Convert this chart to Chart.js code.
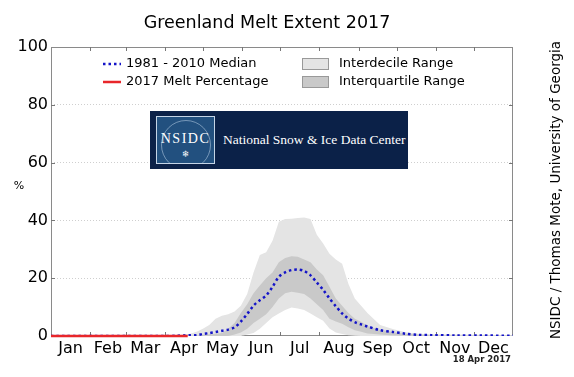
<!DOCTYPE html>
<html>
<head>
<meta charset="utf-8">
<script src="https://cdn.jsdelivr.net/npm/chart.js@4.4.1/dist/chart.umd.min.js"></script>
<style>
  html, body { margin: 0; padding: 0; background: #fff; }
  #wrap { position: relative; width: 574px; height: 377px; }
  #logo {
    position: absolute; left: 150px; top: 111px; width: 258px; height: 58px;
    background: #0b2148;
  }
  #logo .box {
    position: absolute; left: 6px; top: 5px; width: 57px; height: 46px;
    border: 1px solid #c4d4e6; background: #22507f; overflow: hidden;
  }
  #logo .globe {
    position: absolute; left: 4px; top: 3px; width: 48px; height: 48px;
    border-radius: 50%; border: 1px solid rgba(200,220,240,0.5);
  }
  #logo .abbr {
    position: absolute; left: 0; top: 14px; width: 57px; text-align: center;
    font: 14px "Liberation Serif", serif; color: #fff; letter-spacing: 1.5px;
  }
  #logo .flake {
    position: absolute; left: 0; top: 32px; width: 57px; text-align: center;
    font: 9px "DejaVu Sans", sans-serif; color: #fff;
  }
  #logo .name {
    position: absolute; left: 73px; top: 21px;
    font: 13.5px "Liberation Serif", serif; color: #fff; white-space: nowrap;
  }
</style>
</head>
<body>
<div id="wrap">
  <canvas id="meltChart" width="574" height="377"></canvas>
  <div id="logo">
    <div class="box"><div class="globe"></div><div class="abbr">NSIDC</div><div class="flake">❄</div></div>
    <div class="name">National Snow &amp; Ice Data Center</div>
  </div>
</div>
<script>
const months = ['Jan', 'Feb', 'Mar', 'Apr', 'May', 'Jun', 'Jul', 'Aug', 'Sep', 'Oct', 'Nov', 'Dec'];
const monthLengths = [31, 28, 31, 30, 31, 30, 31, 31, 30, 31, 30, 31];

// day of year for the climatology curves
const dayOfYear = [0, 90, 100, 105, 110, 115, 120, 125, 130, 135, 140, 145, 150, 155, 160, 165, 170, 175, 180, 185,
    190, 195, 200, 205, 210, 215, 220, 225, 230, 235, 240, 245, 250, 260, 270, 280, 290, 300, 320, 340, 365];

const median = [0, 0, 0.1, 0.2, 0.3, 0.3, 0.7, 1.0, 1.4, 1.8, 2.2, 3.0, 5.0, 7.6, 10.5, 12.4, 14.0, 17.0, 20.5, 22.0,
    22.8, 23.0, 22.5, 21.0, 18.5, 16.0, 13.0, 10.3, 7.8, 6.0, 4.8, 4.0, 3.3, 2.0, 1.4, 0.8, 0.4, 0.3, 0.2, 0.15, 0.1];

const decileHigh = [0, 0, 0.2, 0.5, 0.8, 1.5, 2.5, 3.8, 6.0, 7.0, 7.5, 8.5, 10.5, 14.5, 22, 28, 29, 33, 39.5, 40.5,
    40.6, 40.8, 41, 40.5, 35, 32, 28.5, 26.5, 25, 18, 13, 10.5, 8, 3.8, 2.4, 1.3, 0.8, 0.6, 0.5, 0.4, 0.3];

const decileLow = [0, 0, 0, 0, 0, 0, 0, 0, 0, 0, 0, 0, 0, 0.5, 1, 2.5, 4.5, 6.5, 7.8, 9,
    9.9, 9.5, 9, 7.8, 6.5, 5.3, 2.6, 1.2, 0.7, 0.3, 0.1, 0, 0, 0, 0, 0, 0, 0, 0, 0, 0];

const quartileHigh = [0, 0, 0, 0, 0.1, 0.2, 0.4, 0.6, 0.8, 1.0, 2.5, 4.5, 8, 11, 14.8, 17.5, 20, 22, 25.5, 27,
    27.6, 27.4, 26.5, 25.5, 23, 21, 17, 13, 10.5, 8, 6, 4.9, 3.5, 2.2, 1.4, 0.8, 0.5, 0.3, 0.2, 0.2, 0.1];

const quartileLow = [0, 0, 0, 0, 0, 0, 0, 0, 0, 0, 0, 0.5, 1.2, 2.5, 4.5, 6, 7.5, 10, 13, 14.8,
    15.3, 15, 14.5, 13, 11, 9, 6, 5, 4.2, 3, 2, 1.5, 0.9, 0.5, 0.2, 0.1, 0, 0, 0, 0, 0];

// 2017 so far (up to 18 Apr)
const days2017 = [0, 30, 60, 90, 108];
const melt2017 = [0, 0, 0, 0, 0];

const yTicks = [0, 20, 40, 60, 80, 100];

function toPoints(xs, ys) {
    return xs.map((x, i) => ({x: x, y: ys[i]}));
}

// month boundaries and mid points
const monthStarts = [0];
monthLengths.forEach(len => monthStarts.push(monthStarts[monthStarts.length - 1] + len));
const monthMids = monthLengths.map((len, i) => monthStarts[i] + len / 2);

const FONT = '"DejaVu Sans", sans-serif';

const framePlugin = {
    id: 'frame',
    beforeDatasetsDraw(chart) {
        const {ctx, chartArea: a, scales} = chart;
        ctx.save();
        ctx.strokeStyle = '#8a8a8a';
        ctx.lineWidth = 1;
        ctx.strokeRect(a.left + 0.5, a.top + 0.5, a.right - a.left - 1, a.bottom - a.top - 1);
        // inward tick marks
        ctx.strokeStyle = '#777';
        ctx.beginPath();
        monthStarts.slice(1, -1).forEach(d => {
            const x = Math.round(scales.x.getPixelForValue(d)) + 0.5;
            ctx.moveTo(x, a.bottom); ctx.lineTo(x, a.bottom - 4);
            ctx.moveTo(x, a.top); ctx.lineTo(x, a.top + 4);
        });
        yTicks.slice(1, -1).forEach(v => {
            const y = Math.round(scales.y.getPixelForValue(v)) + 0.5;
            ctx.moveTo(a.left, y); ctx.lineTo(a.left + 4, y);
            ctx.moveTo(a.right, y); ctx.lineTo(a.right - 4, y);
        });
        ctx.stroke();
        ctx.restore();
    }
};

const textPlugin = {
    id: 'texts',
    afterDraw(chart) {
        const {ctx, chartArea: a} = chart;
        ctx.save();
        ctx.fillStyle = '#000';
        ctx.textBaseline = 'middle';

        ctx.font = '17.5px ' + FONT;
        ctx.textAlign = 'center';
        ctx.fillText('Greenland Melt Extent 2017', 267, 23);

        ctx.font = '11px ' + FONT;
        ctx.fillText('%', 19, 186);

        ctx.font = 'bold 8.5px ' + FONT;
        ctx.textAlign = 'right';
        ctx.fillStyle = '#222';
        ctx.fillText('18 Apr 2017', a.right - 2, 360);

        ctx.save();
        ctx.translate(556, 190);
        ctx.rotate(-Math.PI / 2);
        ctx.textAlign = 'center';
        ctx.fillStyle = '#000';
        ctx.font = '13.5px ' + FONT;
        ctx.fillText('NSIDC / Thomas Mote, University of Georgia', 0, 0);
        ctx.restore();

        // legend
        const ds = chart.data.datasets;
        const rows = [64, 82];
        ctx.font = '13px ' + FONT;
        ctx.textAlign = 'left';
        ctx.fillStyle = '#000';
        [ds[1], ds[0]].forEach((d, i) => {
            ctx.save();
            ctx.strokeStyle = d.borderColor;
            ctx.lineWidth = d.borderWidth;
            ctx.setLineDash(d.borderDash || []);
            ctx.beginPath();
            ctx.moveTo(103, rows[i]);
            ctx.lineTo(121, rows[i]);
            ctx.stroke();
            ctx.restore();
            ctx.fillText(d.label, 126, rows[i]);
        });
        [ds[4], ds[2]].forEach((d, i) => {
            ctx.fillStyle = d.backgroundColor;
            ctx.fillRect(302.5, rows[i] - 5.5, 26, 11);
            ctx.strokeStyle = '#999';
            ctx.lineWidth = 1;
            ctx.strokeRect(302.5, rows[i] - 5.5, 26, 11);
            ctx.fillStyle = '#000';
            ctx.fillText(d.label, 339, rows[i]);
        });
        ctx.restore();
    }
};

new Chart(document.getElementById('meltChart').getContext('2d'), {
    type: 'line',
    data: {
        datasets: [
            {
                label: '2017 Melt Percentage',
                data: toPoints(days2017, melt2017),
                borderColor: '#e8262a',
                borderWidth: 2.5,
                pointRadius: 0,
                fill: false,
                clip: false,
                order: 0
            },
            {
                label: '1981 - 2010 Median',
                data: toPoints(dayOfYear, median),
                borderColor: '#1414c8',
                borderWidth: 2.5,
                borderDash: [2.5, 3],
                pointRadius: 0,
                fill: false,
                tension: 0.3,
                order: 1
            },
            {
                label: 'Interquartile Range',
                data: toPoints(dayOfYear, quartileHigh),
                borderWidth: 0,
                backgroundColor: '#c9c9c9',
                pointRadius: 0,
                fill: 3,
                order: 2
            },
            {
                label: 'q25',
                data: toPoints(dayOfYear, quartileLow),
                borderWidth: 0,
                pointRadius: 0,
                fill: false,
                order: 3
            },
            {
                label: 'Interdecile Range',
                data: toPoints(dayOfYear, decileHigh),
                borderWidth: 0,
                backgroundColor: '#e4e4e4',
                pointRadius: 0,
                fill: 5,
                order: 4
            },
            {
                label: 'd10',
                data: toPoints(dayOfYear, decileLow),
                borderWidth: 0,
                pointRadius: 0,
                fill: false,
                order: 5
            }
        ]
    },
    options: {
        responsive: false,
        animation: false,
        events: [],
        layout: {padding: {top: 47, right: 61, left: 0, bottom: 0}},
        plugins: {
            legend: {display: false},
            tooltip: {enabled: false}
        },
        scales: {
            x: {
                type: 'linear',
                min: 0,
                max: 365,
                afterBuildTicks: scale => { scale.ticks = monthMids.map(v => ({value: v})); },
                afterFit: scale => { scale.height = 41; },
                grid: {display: false, drawTicks: false},
                border: {display: false},
                ticks: {
                    autoSkip: false,
                    maxRotation: 0,
                    padding: 3,
                    color: '#000',
                    font: {family: FONT, size: 16},
                    callback: (v, i) => months[i]
                }
            },
            y: {
                min: 0,
                max: 100,
                afterBuildTicks: scale => { scale.ticks = yTicks.map(v => ({value: v})); },
                afterFit: scale => { scale.width = 51; },
                grid: {
                    drawTicks: false,
                    color: c => (c.tick.value === 0 || c.tick.value === 100) ? 'rgba(0,0,0,0)' : '#cfcfcf'
                },
                border: {display: false, dash: [1, 2]},
                ticks: {
                    padding: 3,
                    color: '#000',
                    font: {family: FONT, size: 16}
                }
            }
        }
    },
    plugins: [framePlugin, textPlugin]
});
</script>
</body>
</html>
